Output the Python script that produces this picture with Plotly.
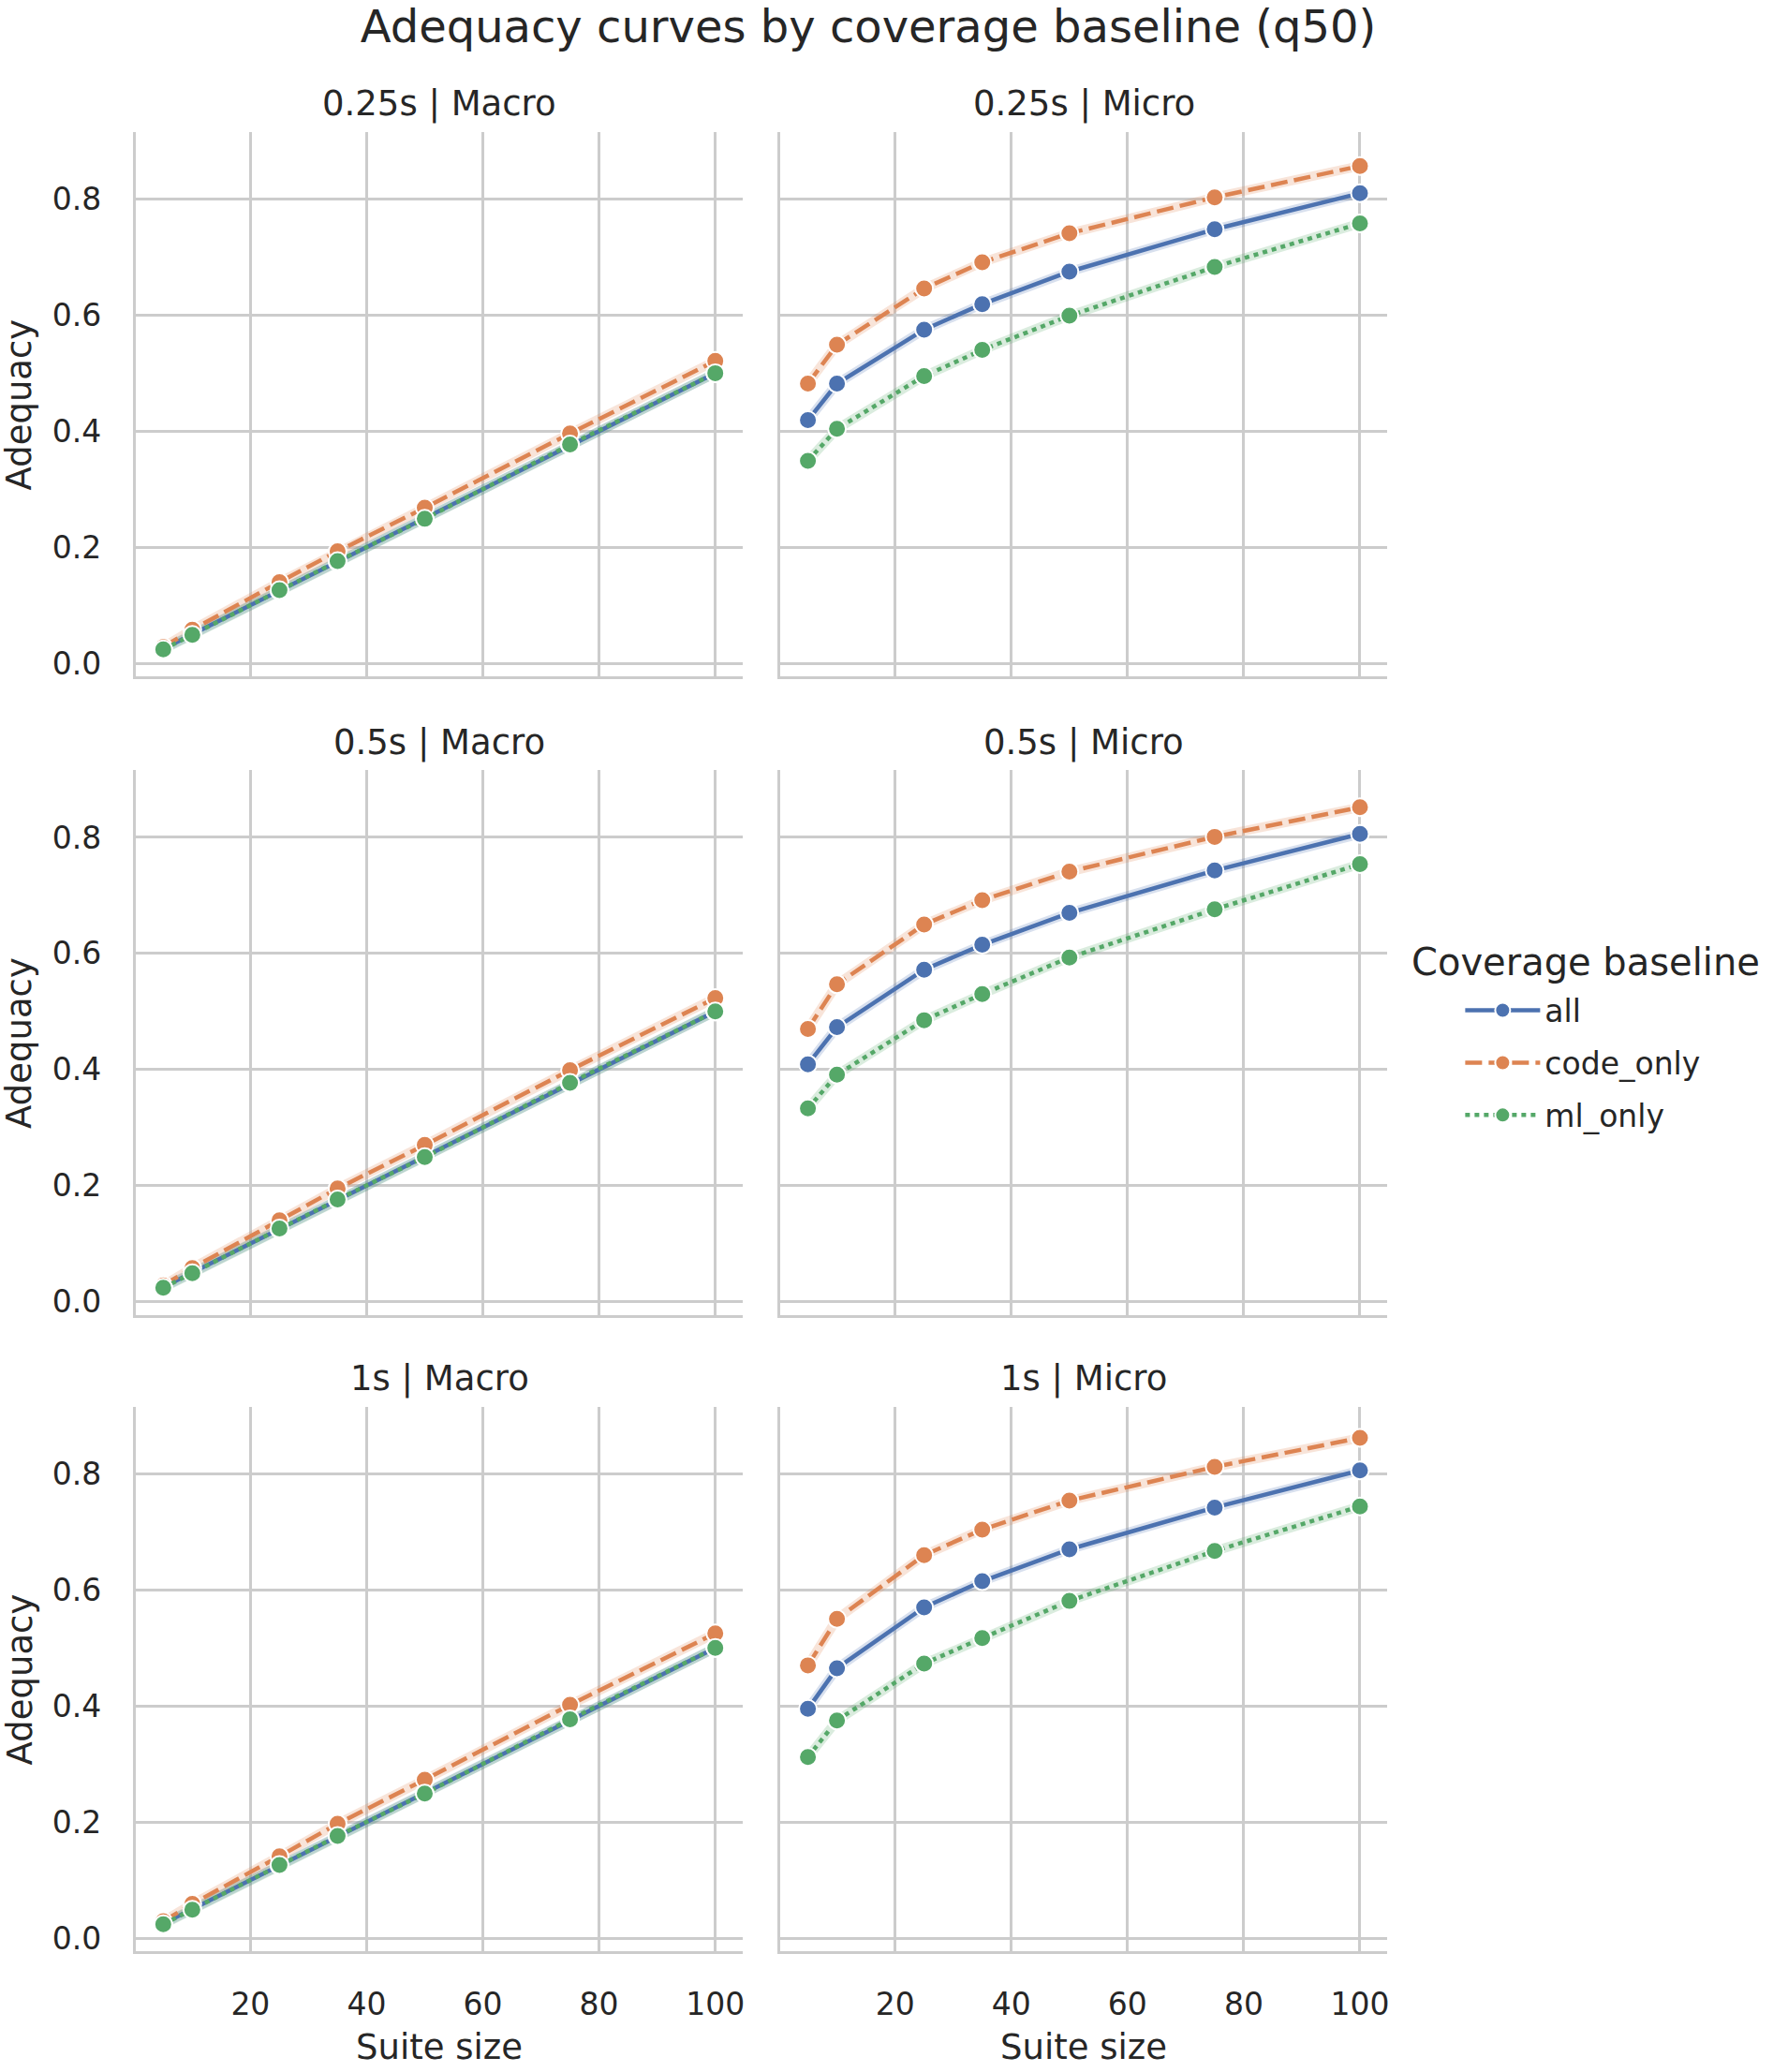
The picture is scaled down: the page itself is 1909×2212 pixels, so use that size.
import plotly.graph_objects as go

# ---------------- data ----------------
suite_sizes = [5, 10, 25, 35, 50, 75, 100]
baselines = ["all", "code_only", "ml_only"]
timeouts = ["0.25s", "0.5s", "1s"]
granularities = ["Macro", "Micro"]

macro_025_all = [0.025, 0.050, 0.125, 0.175, 0.250, 0.376, 0.500]
macro_025_code_only = [0.028, 0.058, 0.140, 0.193, 0.268, 0.396, 0.521]
macro_025_ml_only = [0.024, 0.049, 0.126, 0.176, 0.249, 0.377, 0.500]

macro_05_all = [0.025, 0.050, 0.125, 0.175, 0.250, 0.376, 0.500]
macro_05_code_only = [0.028, 0.058, 0.140, 0.195, 0.270, 0.399, 0.523]
macro_05_ml_only = [0.024, 0.049, 0.126, 0.176, 0.249, 0.377, 0.500]

macro_1_all = [0.025, 0.050, 0.125, 0.175, 0.250, 0.376, 0.500]
macro_1_code_only = [0.029, 0.059, 0.141, 0.197, 0.273, 0.402, 0.525]
macro_1_ml_only = [0.024, 0.049, 0.126, 0.176, 0.249, 0.377, 0.500]

micro_025_all = [0.419, 0.482, 0.575, 0.619, 0.675, 0.748, 0.810]
micro_025_code_only = [0.482, 0.549, 0.646, 0.691, 0.741, 0.803, 0.857]
micro_025_ml_only = [0.349, 0.404, 0.495, 0.540, 0.599, 0.683, 0.758]

micro_05_all = [0.409, 0.473, 0.572, 0.615, 0.670, 0.743, 0.806]
micro_05_code_only = [0.470, 0.547, 0.650, 0.692, 0.741, 0.801, 0.852]
micro_05_ml_only = [0.333, 0.391, 0.485, 0.530, 0.593, 0.676, 0.754]

micro_1_all = [0.395, 0.465, 0.570, 0.615, 0.670, 0.742, 0.806]
micro_1_code_only = [0.470, 0.550, 0.660, 0.704, 0.754, 0.812, 0.862]
micro_1_ml_only = [0.312, 0.375, 0.473, 0.517, 0.581, 0.667, 0.744]

x_tick_vals = [20, 40, 60, 80, 100]
y_tick_vals = [0.0, 0.2, 0.4, 0.6, 0.8]
y_tick_text = ["0.0", "0.2", "0.4", "0.6", "0.8"]

panel_data = {
    ("0.25s", "Macro"): [macro_025_all, macro_025_code_only, macro_025_ml_only],
    ("0.5s", "Macro"): [macro_05_all, macro_05_code_only, macro_05_ml_only],
    ("1s", "Macro"): [macro_1_all, macro_1_code_only, macro_1_ml_only],
    ("0.25s", "Micro"): [micro_025_all, micro_025_code_only, micro_025_ml_only],
    ("0.5s", "Micro"): [micro_05_all, micro_05_code_only, micro_05_ml_only],
    ("1s", "Micro"): [micro_1_all, micro_1_code_only, micro_1_ml_only],
}

# ---------------- style ----------------
W, H = 1909, 2212
FONT = "DejaVu Sans"
TXT = "#262626"
GRID = "#cccccc"
colors = {"all": "#4C72B0", "code_only": "#DD8452", "ml_only": "#55A868"}
halo = {"all": "rgba(76,114,176,0.22)", "code_only": "rgba(221,132,82,0.22)",
        "ml_only": "rgba(85,168,104,0.22)"}
dashes = {"all": "solid", "code_only": "18px,7px", "ml_only": "5px,5px"}

col_px = [(145, 794), (834, 1483)]
row_px = [(141, 724), (824, 1407), (1505, 2088)]

def px_x(v):
    return v / W

def px_y(v):
    return 1 - v / H

fig = go.Figure()
layout = dict()
annotations = []

for r, t in enumerate(timeouts):
    for c, g in enumerate(granularities):
        idx = r * 2 + c + 1
        xa = "x" if idx == 1 else f"x{idx}"
        ya = "y" if idx == 1 else f"y{idx}"
        series = panel_data[(t, g)]
        for b, vals in zip(baselines, series):
            fig.add_trace(go.Scatter(
                x=suite_sizes, y=vals, xaxis=xa, yaxis=ya, mode="lines",
                line=dict(color=halo[b], width=10), showlegend=False,
                hoverinfo="skip"))
        for b, vals in zip(baselines, series):
            fig.add_trace(go.Scatter(
                x=suite_sizes, y=vals, xaxis=xa, yaxis=ya, mode="lines+markers",
                name=b, legendgroup=b, showlegend=(idx == 1),
                line=dict(color=colors[b], width=4.5, dash=dashes[b]),
                marker=dict(color=colors[b], size=19,
                            line=dict(color="white", width=2))))
        x0, x1 = col_px[c]
        y0, y1 = row_px[r]
        xkey = "xaxis" if idx == 1 else f"xaxis{idx}"
        ykey = "yaxis" if idx == 1 else f"yaxis{idx}"
        layout[xkey] = dict(
            domain=[px_x(x0), px_x(x1)], anchor=ya, range=[0.25, 104.75],
            tickvals=x_tick_vals, showticklabels=(r == 2),
            showgrid=True, gridcolor=GRID, gridwidth=2.5,
            showline=True, linecolor=GRID, linewidth=3, zeroline=False,
            ticks="", ticklabelstandoff=25,
            tickfont=dict(family=FONT, size=33, color=TXT))
        layout[ykey] = dict(
            domain=[px_y(y1), px_y(y0)], anchor=xa, range=[-0.023, 0.916],
            tickvals=y_tick_vals, ticktext=y_tick_text, showticklabels=(c == 0),
            showgrid=True, gridcolor=GRID, gridwidth=2.5,
            showline=True, linecolor=GRID, linewidth=3, zeroline=False,
            ticks="", ticklabelstandoff=27,
            tickfont=dict(family=FONT, size=33, color=TXT))
        # facet title
        annotations.append(dict(
            text=f"{t} | {g}", x=px_x((x0 + x1) / 2), y=px_y(y0 - 30),
            xref="paper", yref="paper", xanchor="center", yanchor="middle",
            showarrow=False, font=dict(family=FONT, size=37, color=TXT)))
        if c == 0:
            annotations.append(dict(
                text="Adequacy", x=px_x(21), y=px_y((y0 + y1) / 2),
                xref="paper", yref="paper", xanchor="center", yanchor="middle",
                textangle=-90, showarrow=False,
                font=dict(family=FONT, size=37, color=TXT)))
        if r == 2:
            annotations.append(dict(
                text="Suite size", x=px_x((x0 + x1) / 2), y=px_y(2190),
                xref="paper", yref="paper", xanchor="center", yanchor="middle",
                showarrow=False, font=dict(family=FONT, size=37, color=TXT)))

annotations.append(dict(
    text="Coverage baseline", x=px_x(1507), y=px_y(1029),
    xref="paper", yref="paper", xanchor="left", yanchor="middle",
    showarrow=False, font=dict(family=FONT, size=40, color=TXT)))

fig.update_layout(
    width=W, height=H, autosize=False,
    margin=dict(l=0, r=0, t=0, b=0),
    paper_bgcolor="white", plot_bgcolor="white",
    title=dict(text="Adequacy curves by coverage baseline (q50)",
               x=px_x(927), y=px_y(28), xanchor="center", yanchor="middle",
               font=dict(family=FONT, size=48, color=TXT)),
    legend=dict(x=px_x(1561), y=px_y(1053), xanchor="left", yanchor="top",
                bgcolor="rgba(0,0,0,0)", itemwidth=80,
                font=dict(family=FONT, size=33, color=TXT)),
    annotations=annotations,
    **layout,
)

fig.write_html("out.html")
